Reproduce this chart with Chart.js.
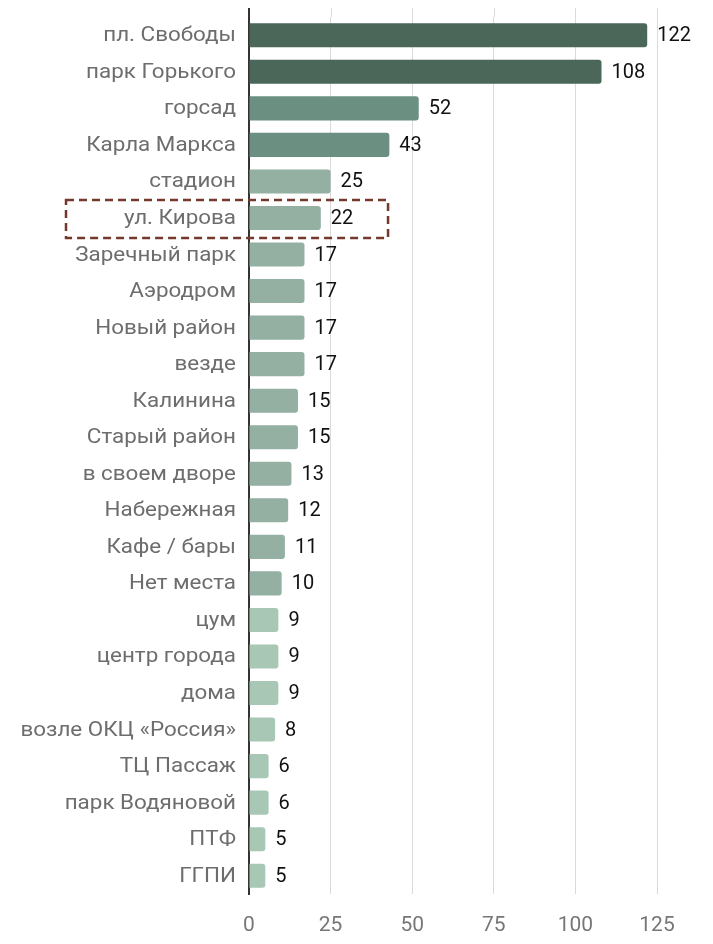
<!DOCTYPE html>
<html>
<head>
<meta charset="utf-8">
<script src="https://cdn.jsdelivr.net/npm/chart.js@4"></script>
<style>
  body { margin: 0; background: #fff; }
  canvas { display: block; }
</style>
</head>
<body>
<canvas id="myChart" width="713" height="944"></canvas>
<script>
// categories and values
var places = ['пл. Свободы', 'парк Горького', 'горсад', 'Карла Маркса', 'стадион', 'ул. Кирова',
    'Заречный парк', 'Аэродром', 'Новый район', 'везде', 'Калинина', 'Старый район',
    'в своем дворе', 'Набережная', 'Кафе / бары', 'Нет места', 'цум', 'центр города',
    'дома', 'возле ОКЦ «Россия»', 'ТЦ Пассаж', 'парк Водяновой', 'ПТФ', 'ГГПИ'];
var counts = [122, 108, 52, 43, 25, 22, 17, 17, 17, 17, 15, 15, 13, 12, 11, 10, 9, 9, 9, 8, 6, 6, 5, 5];
var xTicks = [0, 25, 50, 75, 100, 125];
var highlighted = 'ул. Кирова';

// colour by group
function barColor(v) {
    if (v >= 100) return '#4a6759';
    if (v >= 40) return '#6b8f80';
    if (v >= 10) return '#93b0a3';
    return '#a8c8b5';
}
var colors = counts.map(barColor);

// grid and axis lines run a little above the first bar
var topExtension = {
    id: 'topExtension',
    beforeDatasetsDraw: function (chart) {
        var ctx = chart.ctx;
        var area = chart.chartArea;
        var xScale = chart.scales.x;
        ctx.save();
        ctx.strokeStyle = '#dadada';
        ctx.lineWidth = 1;
        xTicks.forEach(function (v) {
            if (v === 0) return;
            var x = Math.round(xScale.getPixelForValue(v)) + 0.5;
            ctx.beginPath();
            ctx.moveTo(x, area.top - 9);
            ctx.lineTo(x, area.top);
            ctx.stroke();
        });
        ctx.strokeStyle = '#333';
        ctx.lineWidth = 2;
        ctx.beginPath();
        ctx.moveTo(area.left, area.top - 9);
        ctx.lineTo(area.left, area.top);
        ctx.stroke();
        ctx.restore();
    }
};

// category names, drawn a bit wider like the original
var categoryLabels = {
    id: 'categoryLabels',
    afterDraw: function (chart) {
        var ctx = chart.ctx;
        var yScale = chart.scales.y;
        var right = chart.chartArea.left - 13;
        ctx.save();
        ctx.font = '20px Roboto';
        ctx.fillStyle = '#6d6d6d';
        ctx.textBaseline = 'middle';
        ctx.textAlign = 'right';
        places.forEach(function (name, i) {
            var y = yScale.getPixelForValue(i);
            ctx.save();
            ctx.translate(right, y + 1);
            ctx.scale(1.12, 1);
            ctx.fillText(name, 0, 0);
            ctx.restore();
        });
        ctx.restore();
    }
};

// value labels next to the bars
var valueLabels = {
    id: 'valueLabels',
    afterDatasetsDraw: function (chart) {
        var ctx = chart.ctx;
        var meta = chart.getDatasetMeta(0);
        ctx.save();
        ctx.font = '20px Roboto';
        ctx.fillStyle = '#111';
        ctx.textBaseline = 'middle';
        ctx.textAlign = 'left';
        meta.data.forEach(function (bar, i) {
            ctx.fillText(String(counts[i]), bar.x + 10, bar.y + 1);
        });
        ctx.restore();
    }
};

// dashed box around the highlighted row
var highlightBox = {
    id: 'highlightBox',
    afterDraw: function (chart) {
        var ctx = chart.ctx;
        var y = chart.scales.y.getPixelForValue(places.indexOf(highlighted));
        var right = chart.scales.x.getPixelForValue(42.6);
        ctx.save();
        ctx.strokeStyle = '#74392c';
        ctx.lineWidth = 2.5;
        ctx.setLineDash([8, 5]);
        ctx.strokeRect(66, y - 18, right - 66, 38);
        ctx.restore();
    }
};

var ctx = document.getElementById('myChart').getContext('2d');
var myChart = new Chart(ctx, {
    type: 'bar',
    data: {
        labels: places,
        datasets: [{
            data: counts,
            backgroundColor: colors,
            borderRadius: 3,
            borderSkipped: 'left',
            categoryPercentage: 1,
            barPercentage: 0.66
        }]
    },
    options: {
        indexAxis: 'y',
        responsive: false,
        animation: false,
        layout: { padding: { top: 17, right: 56, bottom: 6, left: 0 } },
        plugins: {
            legend: { display: false },
            tooltip: { enabled: false }
        },
        scales: {
            x: {
                min: 0,
                max: 125,
                afterBuildTicks: function (axis) {
                    axis.ticks = xTicks.map(function (v) { return { value: v }; });
                },
                afterFit: function (axis) { axis.height = 44; },
                grid: { color: '#dadada', lineWidth: 1, drawTicks: false },
                border: { display: false },
                ticks: { color: '#777', font: { family: 'Roboto', size: 21 }, padding: 19 }
            },
            y: {
                afterFit: function (axis) { axis.width = 249; },
                grid: { display: false, drawTicks: false },
                border: { display: true, color: '#333', width: 2 },
                ticks: { display: false }
            }
        }
    },
    plugins: [topExtension, valueLabels, categoryLabels, highlightBox]
});
</script>
</body>
</html>
